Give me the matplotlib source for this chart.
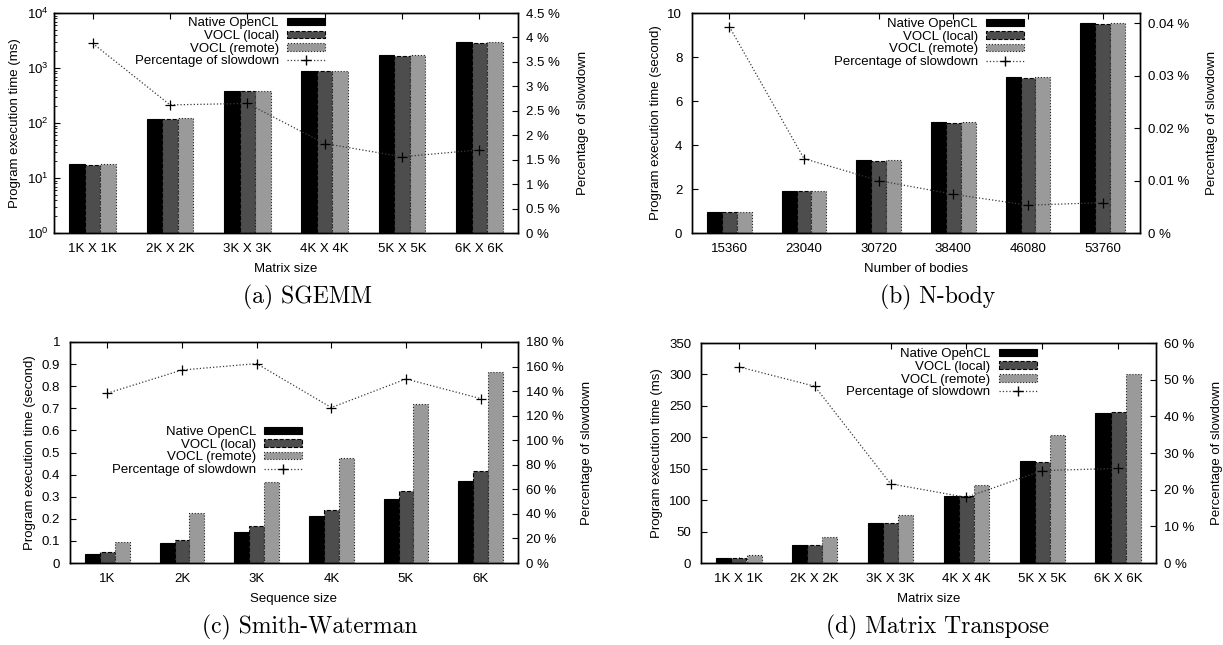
import numpy as np
import matplotlib
matplotlib.use("Agg")
import matplotlib.pyplot as plt
from matplotlib.patches import Patch
from matplotlib.lines import Line2D
from matplotlib.ticker import FuncFormatter, MultipleLocator

plt.rcParams['font.family'] = ['Liberation Sans', 'DejaVu Sans']
plt.rcParams['font.size'] = 9.5

# -- Data
sgemm_labels = ["1K X 1K", "2K X 2K", "3K X 3K", "4K X 4K", "5K X 5K", "6K X 6K"]
sgemm_native = [17.8, 120, 382, 875, 1690, 2920]
sgemm_local = [17.4, 118, 378, 868, 1675, 2900]
sgemm_remote = [18.3, 121, 388, 880, 1700, 2930]
sgemm_slow = [3.88, 2.62, 2.65, 1.83, 1.56, 1.70]

nbody_labels = ["15360", "23040", "30720", "38400", "46080", "53760"]
nbody_native = [0.94, 1.92, 3.30, 5.03, 7.10, 9.56]
nbody_local = [0.94, 1.91, 3.28, 5.00, 7.06, 9.52]
nbody_remote = [0.94, 1.92, 3.30, 5.03, 7.08, 9.56]
nbody_slow = [0.0394, 0.0142, 0.0100, 0.0074, 0.0053, 0.0058]

sw_labels = ["1K", "2K", "3K", "4K", "5K", "6K"]
sw_native = [0.042, 0.091, 0.142, 0.212, 0.289, 0.370]
sw_local = [0.048, 0.104, 0.168, 0.238, 0.325, 0.416]
sw_remote = [0.094, 0.225, 0.366, 0.477, 0.718, 0.863]
sw_slow = [138.3, 157.2, 162.4, 126.6, 149.9, 133.9]

mt_labels = ["1K X 1K", "2K X 2K", "3K X 3K", "4K X 4K", "5K X 5K", "6K X 6K"]
mt_native = [8.5, 29, 63.5, 107, 163, 239]
mt_local = [7.5, 28.5, 63, 107, 161, 241]
mt_remote = [12.5, 42, 77, 124, 204, 300]
mt_slow = [53.5, 48.2, 21.6, 17.9, 25.2, 25.8]

W, H = 1223, 645
fig = plt.figure(figsize=(W / 100, H / 100), dpi=100)


def px_axes(l, t, r, b):
    return fig.add_axes([l / W, 1 - b / H, (r - l) / W, (b - t) / H])


bar_styles = [
    dict(color="black", edgecolor="black", linestyle="-"),
    dict(color="#4d4d4d", edgecolor="black", linestyle="--"),
    dict(color="#9a9a9a", edgecolor="#222222", linestyle=":"),
]
series_names = ["Native OpenCL", "VOCL (local)", "VOCL (remote)"]


def make_panel(box, labels, series, slow, xlabel, ylabel, yscale, ylim, ystep,
               y2lim, y2step, legend_anchor, caption, caption_xy, ytick_pad=7):
    ax = px_axes(*box)
    x = np.arange(len(labels))
    w = 0.2
    for i, (vals, st) in enumerate(zip(series, bar_styles)):
        ax.bar(x + (i - 1) * w, vals, width=w, linewidth=0.8, zorder=2, **st)
    ax.set_yscale(yscale)
    ax.set_ylim(*ylim)
    ax.set_xlim(-0.5, len(labels) - 0.5)
    ax.set_xticks(x)
    ax.set_xticklabels(labels)
    if yscale == "linear":
        ax.yaxis.set_major_locator(MultipleLocator(ystep))
        ax.yaxis.set_major_formatter(FuncFormatter(lambda v, p: f"{v:g}"))
    ax.tick_params(direction="in", top=True, right=False, length=4, width=0.8, pad=7)
    ax.tick_params(axis="y", pad=ytick_pad)
    ax.tick_params(which="minor", direction="in", length=2, right=False)
    ax.set_xlabel(xlabel, labelpad=6)
    ax.set_ylabel(ylabel, labelpad=4)

    ax2 = ax.twinx()
    ax2.plot(x, slow, linestyle=":", color="#3a3a3a", linewidth=0.9,
             marker="+", markersize=7, markeredgecolor="black", markeredgewidth=0.9)
    ax2.set_ylim(*y2lim)
    ax2.yaxis.set_major_locator(MultipleLocator(y2step))
    ax2.yaxis.set_major_formatter(FuncFormatter(lambda v, p: f"{v:g} %"))
    ax2.tick_params(direction="in", length=4, width=0.8, pad=6)
    ax2.set_ylabel("Percentage of slowdown", labelpad=12)
    for a in (ax, ax2):
        for s in a.spines.values():
            s.set_linewidth(1.0)

    handles = [Patch(facecolor=st["color"], edgecolor=st["edgecolor"],
                     linestyle=st["linestyle"], linewidth=0.8) for st in bar_styles]
    handles.append(Line2D([0], [0], linestyle=":", color="#3a3a3a", linewidth=0.9,
                          marker="+", markersize=7, markeredgecolor="black"))
    ax2.legend(handles, series_names + ["Percentage of slowdown"],
               loc="upper right", bbox_to_anchor=legend_anchor, frameon=False,
               markerfirst=False, borderpad=0, borderaxespad=0,
               handlelength=2.9, handleheight=0.5, handletextpad=0.6,
               labelspacing=0.05, fontsize=9.5)

    fig.text(caption_xy[0] / W, 1 - caption_xy[1] / H, caption,
             family="cmr10", fontsize=17, ha="center", va="center")
    return ax, ax2


make_panel((54, 13, 518, 233), sgemm_labels,
           [sgemm_native, sgemm_local, sgemm_remote], sgemm_slow,
           "Matrix size", "Program execution time (ms)", "log", (1, 1e4), None,
           (0, 4.5), 0.5, (0.584, 0.98), "(a) SGEMM", (307.5, 297), ytick_pad=4)

make_panel((692, 13, 1140, 233), nbody_labels,
           [nbody_native, nbody_local, nbody_remote], nbody_slow,
           "Number of bodies", "Program execution time (second)", "linear", (0, 10), 2,
           (0, 0.042), 0.01, (0.741, 0.977), "(b) N-body", (937.5, 297))

make_panel((70, 342, 518, 563), sw_labels,
           [sw_native, sw_local, sw_remote], sw_slow,
           "Sequence size", "Program execution time (second)", "linear", (0, 1), 0.1,
           (0, 180), 20, (0.518, 0.62), "(c) Smith-Waterman", (310, 627))

make_panel((701, 343, 1156, 563), mt_labels,
           [mt_native, mt_local, mt_remote], mt_slow,
           "Matrix size", "Program execution time (ms)", "linear", (0, 350), 50,
           (0, 60), 10, (0.738, 0.976), "(d) Matrix Transpose", (937.5, 627))

fig.savefig("out.png", dpi=100)
